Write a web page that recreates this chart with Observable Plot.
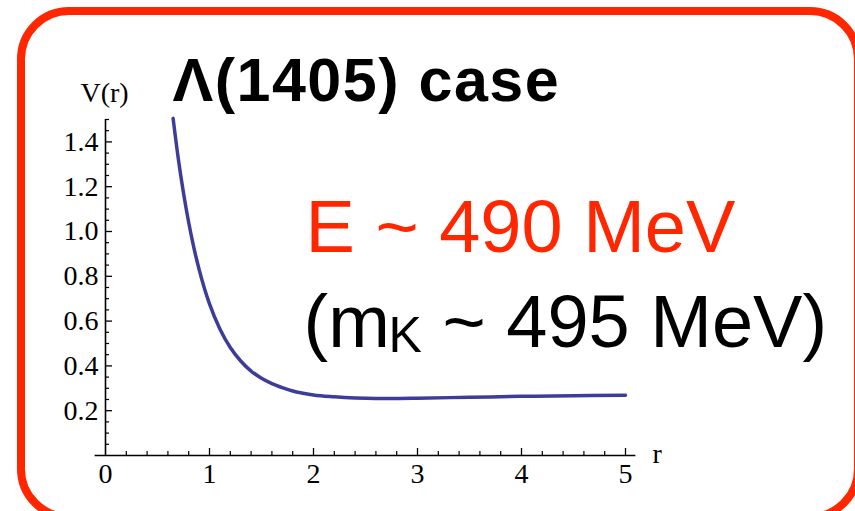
<!DOCTYPE html>
<html>
<head>
<meta charset="utf-8">
<script src="https://cdn.jsdelivr.net/npm/d3@7"></script>
<script src="https://cdn.jsdelivr.net/npm/@observablehq/plot@0.6"></script>
<style>
  html, body { margin: 0; padding: 0; background: #fff; }
  #wrap { position: relative; width: 855px; height: 511px; overflow: hidden; }
  #border { position: absolute; left: 17px; top: 7px; width: 845px; height: 514px;
            box-sizing: border-box; border: 8px solid #ff2600; border-radius: 52px; pointer-events: none; }
</style>
</head>
<body>
<div id="wrap"><div id="border"></div></div>
<script>
// Curve V(r)
const rValues = [0.65, 0.70, 0.75, 0.80, 0.85, 0.90, 0.95, 1.00, 1.10, 1.20, 1.30, 1.40, 1.50, 1.60, 1.70, 1.80, 1.90, 2.00, 2.20, 2.40, 2.60, 2.80, 3.00, 3.50, 4.00, 4.50, 5.00];
const vValues = [1.505, 1.325, 1.172, 1.04, 0.927, 0.831, 0.748, 0.677, 0.565, 0.482, 0.422, 0.377, 0.345, 0.321, 0.303, 0.288, 0.278, 0.270, 0.262, 0.257, 0.255, 0.255, 0.256, 0.260, 0.264, 0.267, 0.269];

// Axis ticks
const xMajorTicks = [0, 1, 2, 3, 4, 5];
const xMinorTicks = [0.2, 0.4, 0.6, 0.8, 1.2, 1.4, 1.6, 1.8, 2.2, 2.4, 2.6, 2.8, 3.2, 3.4, 3.6, 3.8, 4.2, 4.4, 4.6, 4.8];
const yMajorTicks = [0.2, 0.4, 0.6, 0.8, 1.0, 1.2, 1.4];
const yMinorTicks = [0.05, 0.1, 0.15, 0.25, 0.3, 0.35, 0.45, 0.5, 0.55, 0.65, 0.7, 0.75, 0.85, 0.9, 0.95, 1.05, 1.1, 1.15, 1.25, 1.3, 1.35, 1.45, 1.5];

// Texts
const yLabel = "V(r)";
const xLabel = "r";
const titleText = "Λ(1405) case";
const energyText = "E ~ 490 MeV";
const massTextA = "(m";
const massSub = "K";
const massTextB = "~ 495 MeV)";

const data = rValues.map((r, i) => ({r, v: vValues[i]}));

const W = 855, H = 511, mL = 105, mR = 230, mT = 119, mB = 56;
const pxY = (H - mT - mB) / 1.5;   // px per y unit
const pxX = (W - mL - mR) / 5;     // px per x unit
const majorLen = 7, minorLen = 4;
const curveColor = "#3d3d99";
const red = "#ff2600";

const chart = Plot.plot({
  width: W, height: H,
  marginLeft: mL, marginRight: mR, marginTop: mT, marginBottom: mB,
  x: {domain: [0, 5]},
  y: {domain: [0, 1.5]},
  style: {fontFamily: "Liberation Serif", fontSize: "28px", color: "black", background: "transparent", overflow: "visible"},
  marks: [
    Plot.axisX({ticks: xMajorTicks, tickSize: 0, tickPadding: 8, tickFormat: d => String(d), label: null}),
    Plot.axisY({ticks: yMajorTicks, tickSize: 0, tickPadding: 7, tickFormat: d3.format(".1f"), label: null}),
    // axis lines
    Plot.ruleY([0], {x1: -0.1, x2: 5.1, stroke: "black", strokeWidth: 1.6}),
    Plot.ruleX([0], {y1: 0, y2: 1.5, stroke: "black", strokeWidth: 1.6}),
    // x ticks (inward)
    Plot.ruleX(xMajorTicks.filter(d => d !== 0), {x: d => d, y1: 0, y2: majorLen / pxY, stroke: "black", strokeWidth: 1.3}),
    Plot.ruleX(xMinorTicks, {x: d => d, y1: 0, y2: minorLen / pxY, stroke: "black", strokeWidth: 1.2}),
    // y ticks (inward)
    Plot.ruleY(yMajorTicks, {y: d => d, x1: 0, x2: majorLen / pxX, stroke: "black", strokeWidth: 1.3}),
    Plot.ruleY(yMinorTicks, {y: d => d, x1: 0, x2: minorLen / pxX, stroke: "black", strokeWidth: 1.2}),
    // curve
    Plot.line(data, {x: "r", y: "v", stroke: curveColor, strokeWidth: 3.5, curve: "monotone-x"}),
    // axis labels
    Plot.text([yLabel], {text: d => d, frameAnchor: "top-left", dx: -1, dy: -18, lineAnchor: "bottom", textAnchor: "middle", fontSize: 28, fill: "black"}),
    Plot.text([xLabel], {text: d => d, frameAnchor: "bottom-right", dx: 27, dy: 7, lineAnchor: "bottom", textAnchor: "start", fontSize: 28, fill: "black"}),
    // annotations
    Plot.text([titleText], {text: d => d, frameAnchor: "top-left", dx: 67, dy: -19, lineAnchor: "bottom", textAnchor: "start",
      fontSize: 61, fontWeight: "bold", fontFamily: "Liberation Sans", fill: "black"}),
    Plot.text([energyText], {text: d => d, frameAnchor: "top-left", dx: 200, dy: 132, lineAnchor: "bottom", textAnchor: "start",
      fontSize: 74, fontFamily: "Liberation Sans", fill: red}),
    Plot.text([massTextA], {text: d => d, frameAnchor: "top-left", dx: 198, dy: 227, lineAnchor: "bottom", textAnchor: "start",
      fontSize: 74, fontFamily: "Liberation Sans", fill: "black"}),
    Plot.text([massSub], {text: d => d, frameAnchor: "top-left", dx: 283, dy: 232, lineAnchor: "bottom", textAnchor: "start",
      fontSize: 50, fontFamily: "Liberation Sans", fill: "black"}),
    Plot.text([massTextB], {text: d => d, frameAnchor: "top-left", dx: 337, dy: 227, lineAnchor: "bottom", textAnchor: "start",
      fontSize: 74, fontFamily: "Liberation Sans", fill: "black"})
  ]
});
chart.querySelectorAll("text").forEach(t => {
  if (t.textContent === titleText) t.style.letterSpacing = "1.5px";
});
document.getElementById("wrap").insertBefore(chart, document.getElementById("border"));
</script>
</body>
</html>
